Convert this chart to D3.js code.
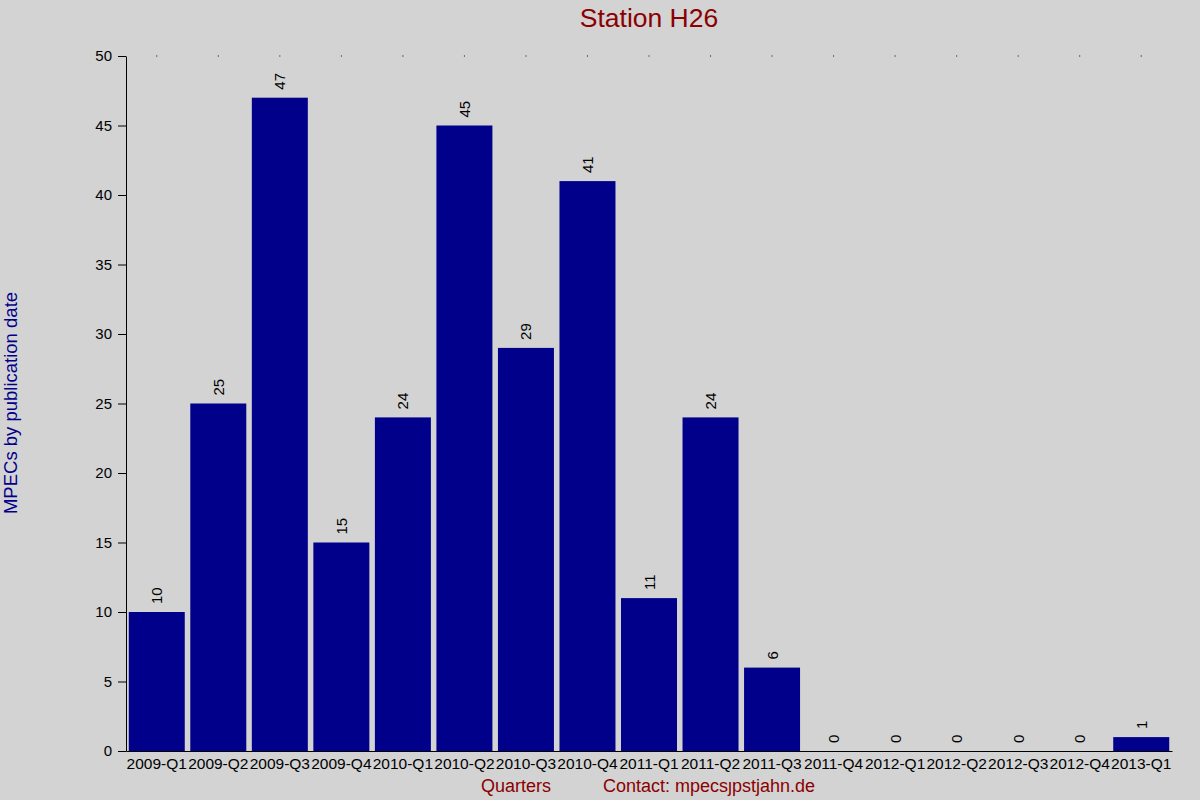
<!DOCTYPE html>
<html>
<head>
<meta charset="UTF-8">
<title>Station H26</title>
<script src="https://cdn.jsdelivr.net/npm/d3@7/dist/d3.min.js"></script>
<style type="text/css">
body { margin: 0; background: #d3d3d3; }
svg { display: block; font-family: "Liberation Sans", Arial, sans-serif; }
</style>
</head>
<body>
<div class="chart"></div>
<script>
var quarters = ["2009-Q1","2009-Q2","2009-Q3","2009-Q4","2010-Q1","2010-Q2","2010-Q3","2010-Q4",
  "2011-Q1","2011-Q2","2011-Q3","2011-Q4","2012-Q1","2012-Q2","2012-Q3","2012-Q4","2013-Q1"];
var mpecs = [10,25,47,15,24,45,29,41,11,24,6,0,0,0,0,0,1];
var yTicks = [0,5,10,15,20,25,30,35,40,45,50];

var W = 1200, H = 800;
var plotLeft = 126, plotRight = 1172, plotTop = 56, plotBottom = 751;

var svg = d3.select(".chart").append("svg")
  .attr("width", W).attr("height", H);

svg.append("rect").attr("width", W).attr("height", H).attr("fill", "#d3d3d3");

var x = d3.scaleBand().domain(quarters).range([plotLeft, plotRight]).paddingInner(0.09).paddingOuter(0.045);
var y = d3.scaleLinear().domain([0, 50]).range([plotBottom, plotTop]);

// bars
svg.selectAll("rect.bar")
  .data(mpecs)
  .enter()
  .append("rect")
  .attr("class", "bar")
  .attr("x", function(d, i){ return x(quarters[i]); })
  .attr("y", function(d){ return y(d); })
  .attr("width", x.bandwidth())
  .attr("height", function(d){ return plotBottom - y(d); })
  .attr("fill", "#00008b");

// value labels
svg.selectAll("text.val")
  .data(mpecs)
  .enter()
  .append("text")
  .attr("class", "val")
  .attr("transform", function(d, i){
    return "translate(" + (x(quarters[i]) + x.bandwidth()/2 + 5.5) + "," + (y(d) - 8) + ") rotate(-90)";
  })
  .attr("font-size", 15)
  .attr("fill", "#000")
  .text(function(d){ return d; });

// y axis
var yAxis = d3.axisLeft(y).tickValues(yTicks).tickSize(8).tickPadding(6).tickSizeOuter(0);
var gy = svg.append("g").attr("transform", "translate(" + plotLeft + ",0)").call(yAxis);
gy.selectAll("text").attr("font-size", 15).attr("font-family", "Liberation Sans, Arial, sans-serif").attr("fill", "#000");
gy.select(".domain").attr("stroke", "#000");

// x axis
var xAxis = d3.axisBottom(x).tickSize(0).tickPadding(7).tickSizeOuter(0);
var gx = svg.append("g").attr("transform", "translate(0," + plotBottom + ")").call(xAxis);
gx.selectAll("text").attr("font-size", 15.5).attr("font-family", "Liberation Sans, Arial, sans-serif").attr("fill", "#000");
gx.select(".domain").attr("stroke", "#000");

// small dots along the top
svg.selectAll("rect.dot")
  .data(quarters)
  .enter()
  .append("rect")
  .attr("class", "dot")
  .attr("x", function(d){ return x(d) + x.bandwidth()/2 - 0.5; })
  .attr("y", plotTop - 0.5)
  .attr("width", 1).attr("height", 1)
  .attr("fill", "#000");

// titles
svg.append("text")
  .attr("x", (plotLeft + plotRight)/2).attr("y", 27)
  .attr("text-anchor", "middle")
  .attr("font-size", 26.5)
  .attr("fill", "#8b0000")
  .text("Station H26");

svg.append("text")
  .attr("transform", "translate(17," + 403 + ") rotate(-90)")
  .attr("text-anchor", "middle")
  .attr("font-size", 18.5)
  .attr("fill", "#00008b")
  .text("MPECs by publication date");

svg.append("text")
  .attr("x", 516).attr("y", 792)
  .attr("text-anchor", "middle")
  .attr("font-size", 18)
  .attr("fill", "#8b0000")
  .text("Quarters");

svg.append("text")
  .attr("x", 603).attr("y", 792)
  .attr("font-size", 18)
  .attr("fill", "#8b0000")
  .text("Contact: mpecs\u0237pstjahn.de");
</script>
</body>
</html>
